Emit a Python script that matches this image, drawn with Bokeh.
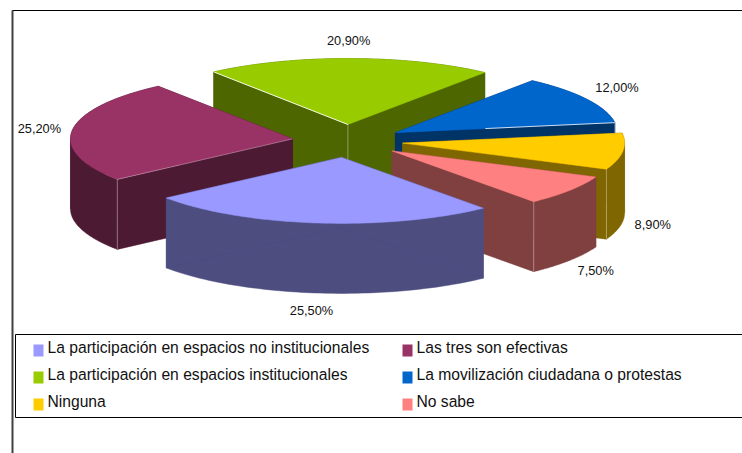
import numpy as np
from bokeh.plotting import figure
from bokeh.models import Range1d
from bokeh.core.properties import value
from bokeh.embed import file_html
from bokeh.resources import INLINE

# ---- data -----------------------------------------------------------
categories = ["La participación en espacios no institucionales", "Las tres son efectivas",
              "La participación en espacios institucionales", "La movilización ciudadana o protestas",
              "Ninguna", "No sabe"]
values = [25.5, 25.2, 20.9, 12.0, 8.9, 7.5]
labels = ["25,50%", "25,20%", "20,90%", "12,00%", "8,90%", "7,50%"]
top_colors = ["#9999FF", "#993366", "#99CC00", "#0066CC", "#FFCC00", "#FF8080"]
side_colors = ["#4D4D80", "#4D1A33", "#4D6600", "#003366", "#806600", "#804040"]

# ---- layout ---------------------------------------------------------
CX, CY, RX, RY, DEPTH, EXPLODE = 347.0, 140.5, 222.0, 66.0, 70.0, 0.25
START_DEG = 50.3
DRAW_ORDER = [2, 1, 3, 4, 5, 0]
LABEL_OFFSET = [(-6, 87), (-33, -2), (-1, -18), (30, -12), (30, 73), (26, 80)]
LIGHT_EDGE = {2: "apex", 1: "start", 5: "end", 4: "end", 3: "end"}
# highlighted radial edges on the top faces: side, start fraction, alpha
TOP_EDGE = {2: ("start", 0.0, 0.9), 3: ("end", 0.41, 0.8), 1: ("start", 0.0, 0.3)}
FONT = "Liberation Sans"

p = figure(width=742, height=453, output_backend="svg", toolbar_location=None,
           x_range=Range1d(0, 742), y_range=Range1d(453, 0), min_border=0,
           outline_line_color=None)
p.axis.visible = False
p.grid.visible = False

sweeps = np.array(values) / sum(values) * 360.0
starts = START_DEG + np.concatenate([[0], np.cumsum(sweeps)[:-1]])

label_x, label_y = [], []
for i in range(len(values)):
    mid = np.radians(starts[i] + sweeps[i] / 2)
    ax = CX + EXPLODE * RX * np.cos(mid)
    ay = CY + EXPLODE * RY * np.sin(mid)
    label_x.append(ax + RX * np.cos(mid) + LABEL_OFFSET[i][0])
    label_y.append(ay + RY * np.sin(mid) + LABEL_OFFSET[i][1])

for i in DRAW_ORDER:
    mid = np.radians(starts[i] + sweeps[i] / 2)
    ax = CX + EXPLODE * RX * np.cos(mid)
    ay = CY + EXPLODE * RY * np.sin(mid)
    a0, a1 = starts[i], starts[i] + sweeps[i]
    t = np.radians(np.linspace(a0, a1, 80))
    ex = ax + RX * np.cos(t)
    ey = ay + RY * np.sin(t)
    # rim: one band per monotonic part of the arc (split where x turns round)
    cuts = [a0] + [m for m in (180.0, 360.0) if a0 < m < a1] + [a1]
    xs, ys = [], []
    for c0, c1 in zip(cuts[:-1], cuts[1:]):
        tt = np.radians(np.linspace(c0, c1, 60))
        bx = ax + RX * np.cos(tt)
        by = ay + RY * np.sin(tt)
        xs.append(list(bx) + list(bx[::-1]))
        ys.append(list(by) + list(by[::-1] + DEPTH))
    xs += [[ax, ex[0], ex[0], ax], [ax, ex[-1], ex[-1], ax], [ax] + list(ex)]
    ys += [[ay, ey[0], ey[0] + DEPTH, ay + DEPTH], [ay, ey[-1], ey[-1] + DEPTH, ay + DEPTH], [ay] + list(ey)]
    cols = [side_colors[i]] * (len(xs) - 1) + [top_colors[i]]
    p.patches(xs, ys, fill_color=cols, line_color=cols, line_width=0.5)
    ends = {"apex": (ax, ay), "start": (ex[0], ey[0]), "end": (ex[-1], ey[-1])}
    if i in LIGHT_EDGE:
        vx, vy = ends[LIGHT_EDGE[i]]
        p.segment([vx], [vy], [vx], [vy + DEPTH], line_color="#FFFFFF", line_alpha=0.35, line_width=1)
    if i in TOP_EDGE:
        side, frac, alpha = TOP_EDGE[i]
        vx, vy = ends[side]
        p.segment([ax + frac * (vx - ax)], [ay + frac * (vy - ay)], [vx], [vy],
                  line_color="#FFFFFF", line_alpha=alpha, line_width=1)

p.text(label_x, label_y, text=labels, text_font=value(FONT), text_font_size="12.8px",
       text_color="#111111", text_align="center", text_baseline="middle")

# frame and legend box
p.line([12, 12], [453, 10], line_color="#404040", line_width=2)
p.line([12, 742], [10, 10], line_color="#000000", line_width=1)
p.line([742, 15, 15, 742], [334, 334, 417, 417], line_color="#000000", line_width=1)

col_sw = [33, 402, 33, 402, 33, 402]
row_sw = [344, 344, 371, 371, 398, 398]
sw_x = [c + 5 for c in col_sw]
sw_y = [r + 6 for r in row_sw]
p.rect(sw_x, sw_y, width=10, height=12, fill_color=top_colors, line_color=None)
p.text([c + 14 for c in col_sw], [r + 3 for r in row_sw], text=categories, text_font=value(FONT),
       text_font_size="15.65px", text_color="#111111", text_align="left", text_baseline="middle")

open("out.html", "w").write(file_html(p, INLINE))
